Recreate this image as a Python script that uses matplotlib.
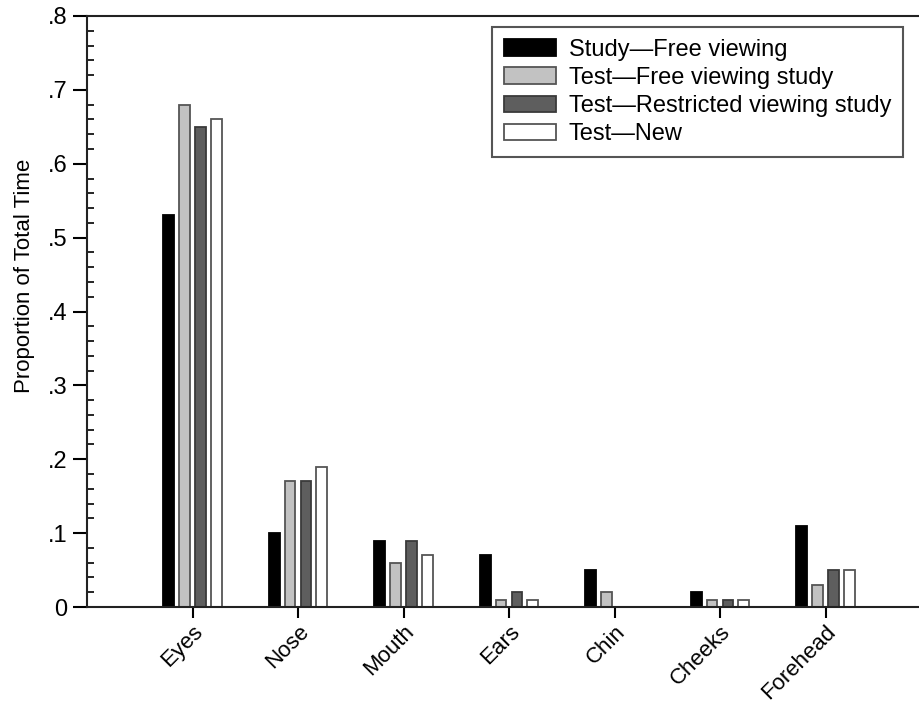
import numpy as np
import matplotlib
matplotlib.use("Agg")
import matplotlib.pyplot as plt
from matplotlib.ticker import MultipleLocator, FuncFormatter

plt.rcParams['font.family'] = ['Liberation Sans', 'DejaVu Sans']

# data
regions = ['Eyes', 'Nose', 'Mouth', 'Ears', 'Chin', 'Cheeks', 'Forehead']
study_free = [0.53, 0.10, 0.09, 0.07, 0.05, 0.02, 0.11]
test_free = [0.68, 0.17, 0.06, 0.01, 0.02, 0.01, 0.03]
test_restricted = [0.65, 0.17, 0.09, 0.02, 0.00, 0.01, 0.05]
test_new = [0.66, 0.19, 0.07, 0.01, 0.00, 0.01, 0.05]

series = [
    ('Study\u2014Free viewing', study_free, '#000000', '#000000'),
    ('Test\u2014Free viewing study', test_free, '#c2c2c2', '#555555'),
    ('Test\u2014Restricted viewing study', test_restricted, '#5e5e5e', '#3a3a3a'),
    ('Test\u2014New', test_new, '#ffffff', '#555555'),
]

fig = plt.figure(figsize=(9.19, 7.04), dpi=100)
ax = fig.add_axes([87 / 919, 97 / 704, 1 - 87 / 919, 591 / 704])

x = np.arange(1, len(regions) + 1)
width = 0.1
step = 0.15
offsets = [-1.5 * step, -0.5 * step, 0.5 * step, 1.5 * step]

for (label, vals, fc, ec), off in zip(series, offsets):
    ax.bar(x + off, vals, width, color=fc, edgecolor=ec, linewidth=1.3,
           label=label)

ax.set_xlim(0, (919 - 87) / 105.5)
ax.set_ylim(0, 0.8)

ax.spines['right'].set_visible(False)
for s in ['left', 'top', 'bottom']:
    ax.spines[s].set_linewidth(1.5)
    ax.spines[s].set_color('#222222')

ax.set_xticks(x)
ax.set_xticklabels(regions, rotation=45, ha='right', rotation_mode='anchor',
                   fontsize=16)
ax.tick_params(axis='x', direction='out', length=8, width=1.5, pad=2)

ax.yaxis.set_major_locator(MultipleLocator(0.1))
ax.yaxis.set_minor_locator(MultipleLocator(0.02))
ax.yaxis.set_major_formatter(FuncFormatter(
    lambda v, p: '0' if abs(v) < 1e-9 else ('%.1f' % v).lstrip('0')))
ax.tick_params(axis='y', which='major', direction='out', length=10, width=1.5,
               labelsize=17, pad=4)
ax.tick_params(axis='y', which='minor', direction='in', length=5, width=1.2)

ax.set_ylabel('Proportion of Total Time', fontsize=16)
ax.yaxis.set_label_coords(-0.063, 0.56)

leg = ax.legend(loc='upper right', bbox_to_anchor=(903 / 919, 1 - 27 / 704),
                bbox_transform=fig.transFigure, borderaxespad=0,
                fontsize=17, fancybox=False, handlelength=2.2,
                handleheight=0.7, handletextpad=0.55, labelspacing=0.26,
                borderpad=0.5, framealpha=1)
leg.get_frame().set_edgecolor('#555555')
leg.get_frame().set_linewidth(1.5)

fig.savefig('out.png', dpi=100)
